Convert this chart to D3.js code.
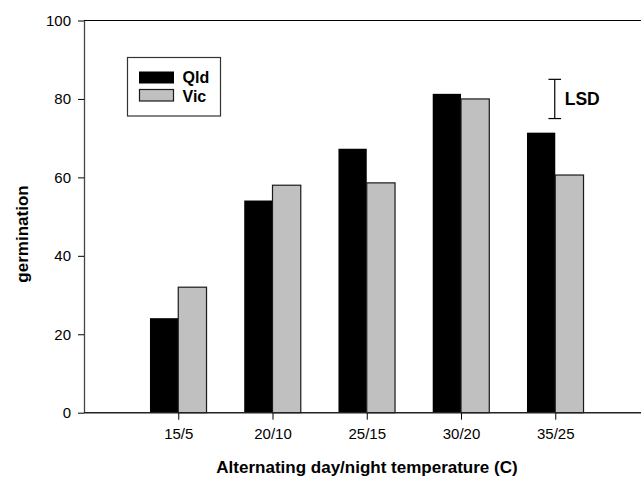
<!DOCTYPE html>
<html>
<head>
<meta charset="utf-8">
<script src="https://cdnjs.cloudflare.com/ajax/libs/d3/7.8.5/d3.min.js"></script>
<style>
  body { margin: 0; background: #fff; }
  svg { display: block; font-family: "Liberation Sans", Arial, sans-serif; }
</style>
</head>
<body>
<div id="chart"></div>
<script>
var categories = ['15/5', '20/10', '25/15', '30/20', '35/25'];
var qld = [24.1, 54.1, 67.3, 81.3, 71.4];
var vic = [32.0, 58.0, 58.6, 80.0, 60.6];
var yTicks = [0, 20, 40, 60, 80, 100];
var lsd = { category: '35/25', mid: 80, half: 5 };

var width = 641, height = 477;

var svg = d3.select('#chart')
  .append('svg')
  .attr('width', width)
  .attr('height', height);

// x axis runs 0..6 category units, clipped by the right edge
var xScale = d3.scalePoint()
  .domain(categories)
  .range([84, 649.5])
  .padding(1);

var yScale = d3.scaleLinear()
  .domain([0, 100])
  .range([412.7, 20.5]);

var barW = xScale.step() * 0.3;

// bars
svg.selectAll('.qld')
  .data(qld)
  .enter()
  .append('rect')
  .attr('class', 'qld')
  .attr('x', function (d, i) { return xScale(categories[i]) - barW; })
  .attr('y', function (d) { return yScale(d); })
  .attr('width', barW)
  .attr('height', function (d) { return yScale(0) - yScale(d); })
  .attr('fill', '#000');

svg.selectAll('.vic')
  .data(vic)
  .enter()
  .append('rect')
  .attr('class', 'vic')
  .attr('x', function (d, i) { return xScale(categories[i]); })
  .attr('y', function (d) { return yScale(d); })
  .attr('width', barW)
  .attr('height', function (d) { return yScale(0) - yScale(d); })
  .attr('fill', '#c0c0c0')
  .attr('stroke', '#1a1a1a')
  .attr('stroke-width', 1.2);

// axes
var xAxis = svg.append('g')
  .attr('transform', 'translate(0,' + yScale(0) + ')')
  .call(d3.axisBottom(xScale).tickSize(7).tickSizeOuter(0).tickPadding(8.5));
xAxis.select('.domain').remove();
xAxis.selectAll('text').style('font-size', '15px').attr('fill', '#000');
xAxis.selectAll('line').attr('stroke', '#000');

var yAxis = svg.append('g')
  .attr('transform', 'translate(' + xScale.range()[0] + ',0)')
  .call(d3.axisLeft(yScale).tickValues(yTicks).tickSize(6).tickSizeOuter(0).tickPadding(7));
yAxis.select('.domain').attr('stroke', '#444').attr('stroke-width', 1.3);
yAxis.selectAll('text').style('font-size', '15px').attr('fill', '#000');
yAxis.selectAll('line').attr('stroke', '#000');

// bottom and top frame lines
svg.append('line')
  .attr('x1', xScale.range()[0]).attr('x2', width)
  .attr('y1', yScale(0)).attr('y2', yScale(0))
  .attr('stroke', '#222').attr('stroke-width', 1.5);
svg.append('line')
  .attr('x1', xScale.range()[0]).attr('x2', width)
  .attr('y1', yScale(100)).attr('y2', yScale(100))
  .attr('stroke', '#000').attr('stroke-width', 1.2);

// axis titles
svg.append('text')
  .attr('x', 367)
  .attr('y', 473)
  .attr('text-anchor', 'middle')
  .style('font-size', '17px')
  .style('font-weight', 'bold')
  .text('Alternating day/night temperature (C)');

svg.append('text')
  .attr('transform', 'translate(28,234) rotate(-90)')
  .attr('text-anchor', 'middle')
  .style('font-size', '17px')
  .style('font-weight', 'bold')
  .text('germination');

// legend
var legend = svg.append('g');
legend.append('rect')
  .attr('x', 127.5).attr('y', 57.5)
  .attr('width', 93).attr('height', 58.5)
  .attr('fill', '#fff').attr('stroke', '#333').attr('stroke-width', 1.2);
legend.append('rect')
  .attr('x', 139).attr('y', 71.5).attr('width', 35).attr('height', 12)
  .attr('fill', '#000');
legend.append('rect')
  .attr('x', 139.5).attr('y', 89.5).attr('width', 34).attr('height', 11.5)
  .attr('fill', '#c0c0c0').attr('stroke', '#1a1a1a').attr('stroke-width', 1.2);
legend.append('text')
  .attr('x', 182.5).attr('y', 83)
  .style('font-size', '16px').style('font-weight', 'bold')
  .text('Qld');
legend.append('text')
  .attr('x', 182.5).attr('y', 101.5)
  .style('font-size', '16px').style('font-weight', 'bold')
  .text('Vic');

// LSD bar
var lx = xScale(lsd.category) - 0.5;
var lg = svg.append('g').attr('stroke', '#000').attr('stroke-width', 1.2);
lg.append('line')
  .attr('x1', lx).attr('x2', lx)
  .attr('y1', yScale(lsd.mid + lsd.half)).attr('y2', yScale(lsd.mid - lsd.half));
lg.append('line')
  .attr('x1', lx - 6.3).attr('x2', lx + 6.3)
  .attr('y1', yScale(lsd.mid + lsd.half)).attr('y2', yScale(lsd.mid + lsd.half));
lg.append('line')
  .attr('x1', lx - 6.3).attr('x2', lx + 6.3)
  .attr('y1', yScale(lsd.mid - lsd.half)).attr('y2', yScale(lsd.mid - lsd.half));
svg.append('text')
  .attr('x', lx + 10)
  .attr('y', yScale(lsd.mid) + 6.5)
  .style('font-size', '17.5px').style('font-weight', 'bold')
  .text('LSD');
</script>
</body>
</html>
